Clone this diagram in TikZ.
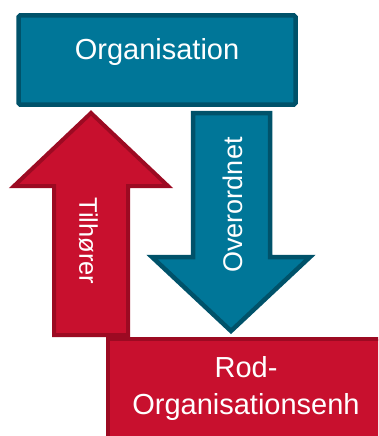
\documentclass[tikz,border=0pt]{standalone}
\usepackage{fontspec}
\setmainfont{Liberation Sans}
\definecolor{tealfill}{RGB}{0,118,152}
\definecolor{tealline}{RGB}{0,82,106}
\definecolor{redfill}{RGB}{200,16,46}
\definecolor{redline}{RGB}{156,10,34}
\tikzset{
  tealshape/.style={fill=tealfill, draw=tealline, line width=4.5pt, line join=miter},
  redshape/.style={fill=redfill, draw=redline, line width=4pt, line join=miter},
  lbl/.style={text=white, inner sep=0pt, font=\fontsize{29}{37}\selectfont}
}
\begin{document}
\begin{tikzpicture}[x=1pt, y=-1pt]
\useasboundingbox (0,0) rectangle (378,436);
\clip (0,0) rectangle (378,436);
% top box
\node[tealshape, rectangle, rounded corners=1.5pt, minimum width=277pt, minimum height=89pt, inner sep=0pt] (org) at (157,60) {};
\node[lbl, anchor=base] (orgtext) at (157,59.5) {Organisation};
% red up arrow
\draw[redshape] (91,113) -- (168,186) -- (128,186) -- (128,335) -- (54,335) -- (54,186) -- (14,186) -- cycle;
\node[lbl, rotate=-90, anchor=base, font=\fontsize{25.5}{30}\selectfont] (tilh) at (79.3,241) {Tilhører};
% blue down arrow
\draw[tealshape] (193,113) -- (270,113) -- (270,257) -- (310,257) -- (231,331) -- (152,257) -- (193,257) -- cycle;
\node[lbl, rotate=90, anchor=base, font=\fontsize{27}{30}\selectfont] (over) at (242.3,205) {Overordnet};
% bottom box
\node[redshape, rectangle, minimum width=282pt, minimum height=110pt, inner sep=0pt] (rod) at (248.5,393.5) {};
\node[lbl, align=center, anchor=base] (rodtext) at (246,414) {Rod-\\Organisationsenh};
\end{tikzpicture}
\end{document}
